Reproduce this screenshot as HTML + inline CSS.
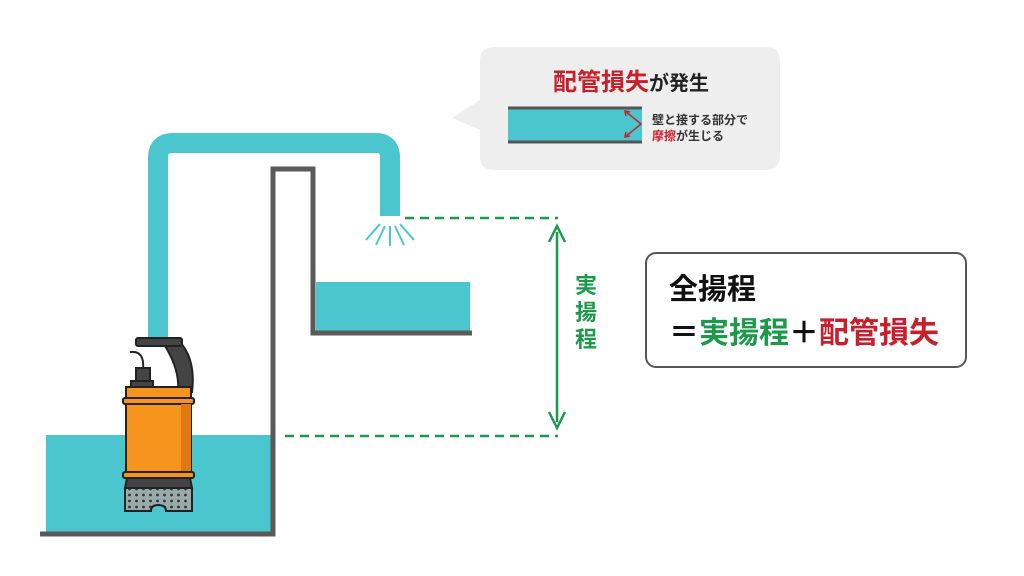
<!DOCTYPE html>
<html><head><meta charset="utf-8"><style>
html,body{margin:0;padding:0;background:#fff;}
svg{display:block;font-family:"Liberation Sans","Noto Sans CJK JP",sans-serif;font-weight:bold;}
</style></head><body>
<svg width="1024" height="576" viewBox="0 0 1024 576" xmlns="http://www.w3.org/2000/svg">
<defs>
<pattern id="holes" width="7" height="6" patternUnits="userSpaceOnUse"><rect width="7" height="6" fill="#9aa"/><circle cx="3.5" cy="3" r="1.4" fill="#333"/></pattern>
</defs>
<rect x="46" y="435" width="226" height="97" fill="#4bc6ce"/>
<rect x="316" y="282" width="154" height="49" fill="#4bc6ce"/>
<path d="M40 534 H273 V169 H313 V333 H472" fill="none" stroke="#5a5a5a" stroke-width="5"/>
<path d="M158 345 V158 Q158 143 173 143 H376 Q390 143 390 158 V216" fill="none" stroke="#4bc6ce" stroke-width="20"/>
<g stroke="#4bc6ce" stroke-width="2">
<line x1="380" y1="224" x2="366" y2="240"/><line x1="385" y1="226" x2="376" y2="245"/>
<line x1="390" y1="226" x2="390" y2="246"/><line x1="395" y1="226" x2="404" y2="245"/>
<line x1="400" y1="224" x2="414" y2="240"/>
</g>
<g stroke="#1a9a4a" stroke-width="2.5" stroke-dasharray="9,6">
<line x1="405" y1="218" x2="558" y2="218"/>
<line x1="285" y1="436" x2="558" y2="436"/>
</g>
<line x1="557" y1="232" x2="557" y2="422" stroke="#1a9a4a" stroke-width="2.5"/>
<path d="M549 242 L557 226 L565 242" fill="none" stroke="#1a9a4a" stroke-width="2.5"/>
<path d="M549 412 L557 428 L565 412" fill="none" stroke="#1a9a4a" stroke-width="2.5"/>
<g fill="#1a9a4a" font-size="22" text-anchor="middle">
<text x="586" y="293">実</text><text x="586" y="320">揚</text><text x="586" y="347">程</text>
</g>
<g stroke="#222" stroke-width="2">
<path d="M165 346 Q180 370 178 392 L192 392 Q196 360 180 342 Z" fill="#444"/>
<rect x="136" y="338" width="46" height="8" rx="2" fill="#444"/>
<path d="M130 352 Q145 350 143 370" fill="none"/>
<rect x="136" y="368" width="14" height="14" fill="#444"/>
<rect x="131" y="381" width="22" height="6" fill="#444"/>
<path d="M126 387 H191 V398 H126 Z" fill="#f7941d"/>
<rect x="123" y="398" width="71" height="6" rx="2" fill="#f7941d"/>
<rect x="126" y="404" width="65" height="68" fill="#f7941d"/>
<rect x="181" y="404" width="10" height="68" fill="#e07a10" stroke="none"/>
<rect x="123" y="472" width="71" height="6" rx="2" fill="#f7941d"/>
<path d="M127 478 H190 L192 488 H125 Z" fill="#444"/>
<path d="M125 488 H192 V511 H166 Q166 505 158 505 Q151 505 151 511 H125 Z" fill="url(#holes)"/>
</g>
<path d="M494 47 H766 Q780 47 780 61 V156 Q780 170 766 170 H494 Q480 170 480 156 V130 L452 118 L480 100 V61 Q480 47 494 47 Z" fill="#eeeeee"/>
<text x="631" y="90" font-size="24" text-anchor="middle"><tspan fill="#c8202a">配管損失</tspan><tspan fill="#222" font-size="20">が発生</tspan></text>
<rect x="508" y="109" width="134" height="33" fill="#4bc6ce"/>
<line x1="508" y1="108" x2="642" y2="108" stroke="#555" stroke-width="3"/>
<line x1="508" y1="142" x2="642" y2="142" stroke="#555" stroke-width="3"/>
<path d="M625 111 L641 124 L625 137" fill="none" stroke="#c8202a" stroke-width="1.5"/>
<path d="M626 116 L625 111 L630 112 M626 132 L625 137 L630 136" fill="none" stroke="#c8202a" stroke-width="1.5"/>
<text x="652" y="124" font-size="12" fill="#333">壁と接する部分で</text>
<text x="652" y="140" font-size="12"><tspan fill="#c8202a">摩擦</tspan><tspan fill="#333">が生じる</tspan></text>
<rect x="646" y="253" width="320" height="114" rx="10" fill="#fff" stroke="#555" stroke-width="2"/>
<text x="669" y="299" font-size="29" fill="#111">全揚程</text>
<text x="669" y="343" font-size="30"><tspan fill="#111">＝</tspan><tspan fill="#1a9a4a">実揚程</tspan><tspan fill="#111">＋</tspan><tspan fill="#c8202a">配管損失</tspan></text>
</svg>
</body></html>
